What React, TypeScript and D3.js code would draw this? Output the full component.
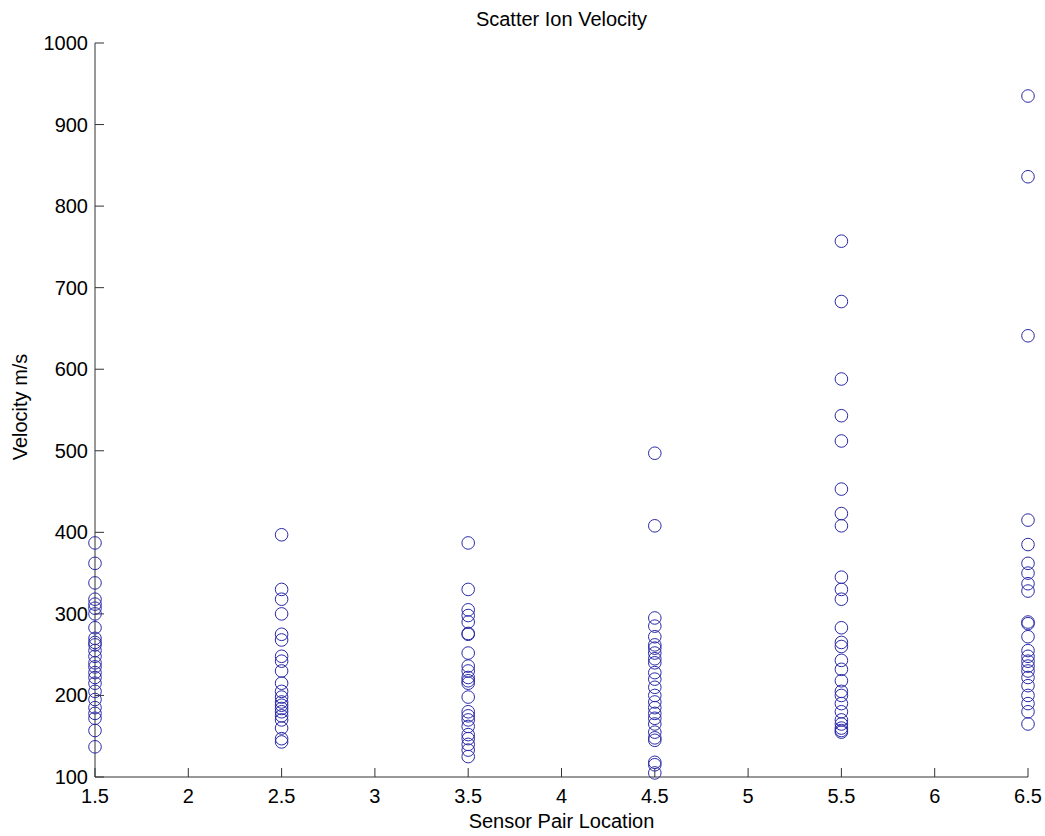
import React from "react";
import * as d3 from "d3";

const locations = [1.5, 2.5, 3.5, 4.5, 5.5, 6.5];

const v15 = [387, 362, 338, 318, 312, 307, 300, 283, 270, 265, 262, 255, 248, 240, 235, 228, 222, 215, 205, 195, 185, 178, 172, 157, 137];
const v25 = [397, 330, 318, 300, 275, 268, 248, 242, 230, 215, 205, 198, 192, 188, 184, 180, 175, 170, 160, 147, 143];
const v35 = [387, 330, 305, 298, 290, 276, 275, 252, 236, 230, 222, 218, 215, 198, 180, 175, 170, 162, 152, 147, 140, 133, 125];
const v45 = [497, 408, 295, 285, 272, 262, 258, 252, 245, 240, 228, 220, 210, 200, 192, 185, 178, 172, 165, 155, 148, 145, 118, 115, 105];
const v55 = [757, 683, 588, 543, 512, 453, 423, 408, 345, 330, 318, 283, 265, 260, 243, 232, 218, 205, 200, 190, 180, 170, 165, 160, 157, 155];
const v65 = [935, 836, 641, 415, 385, 362, 350, 337, 328, 290, 288, 272, 255, 248, 242, 236, 230, 222, 212, 200, 190, 180, 165];

const series = [v15, v25, v35, v45, v55, v65];

const xTicks = [1.5, 2, 2.5, 3, 3.5, 4, 4.5, 5, 5.5, 6, 6.5];
const yTicks = [100, 200, 300, 400, 500, 600, 700, 800, 900, 1000];

const title = "Scatter Ion Velocity";
const xLabel = "Sensor Pair Location";
const yLabel = "Velocity m/s";

export default function App() {
  const W = 1045, H = 836;
  const left = 95, right = 1028, top = 43, bottom = 777;
  const x = d3.scaleLinear().domain([1.5, 6.5]).range([left, right]);
  const y = d3.scaleLinear().domain([100, 1000]).range([bottom, top]);
  const font = "Arial, 'Liberation Sans', Helvetica, sans-serif";
  const axisColor = "#333";
  const tickLen = 9;
  const fs = 20;
  const points: { lx: number; v: number }[] = [];
  series.forEach((vals, i) => vals.forEach((v) => points.push({ lx: locations[i], v })));

  return (
    <svg width={W} height={H} style={{ position: "absolute", left: 0, top: 0, background: "#fff" }} fontFamily={font}>
      <rect x={0} y={0} width={W} height={H} fill="#fff" />
      <line x1={left} y1={top} x2={left} y2={bottom} stroke={axisColor} strokeWidth={1} />
      <line x1={left} y1={bottom} x2={right} y2={bottom} stroke={axisColor} strokeWidth={1} />
      {yTicks.map((t) => (
        <g key={"y" + t}>
          <line x1={left} x2={left + tickLen} y1={y(t)} y2={y(t)} stroke={axisColor} />
          <text x={left - 7} y={y(t)} dy="0.35em" textAnchor="end" fontSize={fs} fill="#000">
            {t}
          </text>
        </g>
      ))}
      {xTicks.map((t) => (
        <g key={"x" + t}>
          <line x1={x(t)} x2={x(t)} y1={bottom} y2={bottom - tickLen} stroke={axisColor} />
          <text x={x(t)} y={803} textAnchor="middle" fontSize={fs} fill="#000">
            {t}
          </text>
        </g>
      ))}
      {points.map((p, i) => (
        <circle key={i} cx={x(p.lx)} cy={y(p.v)} r={6.3} fill="none" stroke="#2a2aa8" strokeWidth={1} />
      ))}
      <text x={(left + right) / 2} y={26} textAnchor="middle" fontSize={fs} fill="#000">
        {title}
      </text>
      <text x={(left + right) / 2} y={828} textAnchor="middle" fontSize={fs} fill="#000">
        {xLabel}
      </text>
      <text transform={`translate(27, ${(top + bottom) / 2 - 3}) rotate(-90)`} textAnchor="middle" fontSize={fs} fill="#000">
        {yLabel}
      </text>
    </svg>
  );
}
